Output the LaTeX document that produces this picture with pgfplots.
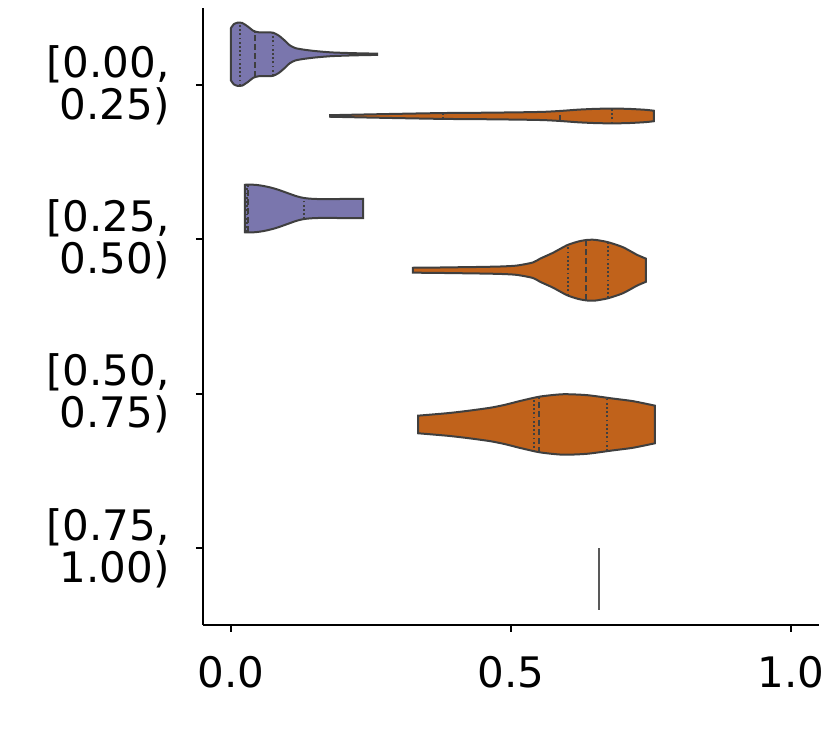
\documentclass[border=0pt]{standalone}
\usepackage{fontspec}
\setmainfont{DejaVu Sans}
\usepackage{pgfplots}
\pgfplotsset{compat=1.18}
\usepackage{pgfplotstable}
\usepgfplotslibrary{fillbetween}

\definecolor{vpurple}{RGB}{122,118,173}
\definecolor{vorange}{RGB}{192,98,27}
\definecolor{vedge}{RGB}{63,63,63}

% x = value, hw = half width of the violin
\pgfplotstableread{
x hw
0.000 0.170
0.005 0.195
0.012 0.205
0.020 0.203
0.030 0.180
0.040 0.152
0.050 0.142
0.065 0.142
0.075 0.140
0.085 0.122
0.095 0.092
0.105 0.058
0.115 0.040
0.130 0.030
0.150 0.021
0.180 0.012
0.220 0.007
0.261 0.004
}\pA
\pgfplotstableread{
x hw
0.177 0.005
0.230 0.009
0.300 0.014
0.379 0.019
0.450 0.021
0.520 0.024
0.560 0.027
0.590 0.033
0.620 0.041
0.650 0.046
0.680 0.048
0.710 0.046
0.740 0.040
0.755 0.034
}\oA
\pgfplotstableread{
x hw
0.025 0.154
0.035 0.155
0.045 0.153
0.055 0.148
0.065 0.141
0.075 0.132
0.085 0.121
0.095 0.108
0.105 0.095
0.115 0.082
0.125 0.072
0.135 0.066
0.145 0.063
0.160 0.061
0.180 0.061
0.200 0.062
0.236 0.063
}\pB
\pgfplotstableread{
x hw
0.325 0.016
0.360 0.017
0.400 0.019
0.440 0.021
0.480 0.024
0.510 0.030
0.539 0.050
0.552 0.075
0.575 0.113
0.600 0.162
0.620 0.186
0.635 0.196
0.650 0.197
0.673 0.182
0.700 0.149
0.725 0.100
0.741 0.075
}\oB
\pgfplotstableread{
x hw
0.334 0.057
0.386 0.073
0.420 0.087
0.4625 0.108
0.490 0.128
0.516 0.152
0.552 0.181
0.593 0.196
0.636 0.190
0.682 0.168
0.718 0.151
0.757 0.122
}\oC

\begin{document}
\begin{tikzpicture}
\begin{axis}[
  width=308pt, height=308.5pt, scale only axis,
  at={(0,0)}, anchor=south west,
  xmin=-0.05, xmax=1.05, ymin=-0.5, ymax=3.5,
  axis x line*=bottom, axis y line*=left,
  axis line style={-, line width=1pt, black},
  xtick={0,0.5,1}, xticklabels={0.0,0.5,1.0},
  ytick={0,1,2,3},
  yticklabels={{[0.75,\\1.00)},{[0.50,\\0.75)},{[0.25,\\0.50)},{[0.00,\\0.25)}},
  tick align=outside, major tick length=3.5pt,
  tick style={line width=1pt, black},
  tick label style={font=\fontsize{21}{21}\selectfont},
  yticklabel style={align=right, inner sep=0pt, xshift=-13pt},
  xticklabel style={inner sep=0pt, yshift=-12pt},
  clip=false,
  edgeu/.style={draw=none, smooth, tension=0.4},
  violin/.style={draw=vedge, line width=1pt},
  quart/.style={vedge, line width=1pt, dash pattern=on 0.9pt off 1.2pt},
  med/.style={vedge, line width=1pt, dash pattern=on 3pt off 1.5pt},
]
% [0.00, 0.25)
\addplot[edgeu, name path=pAu] table[x=x, y expr=3.2+\thisrow{hw}] {\pA};
\addplot[edgeu, name path=pAl] table[x=x, y expr=3.2-\thisrow{hw}] {\pA};
\addplot[violin, fill=vpurple] fill between[of=pAu and pAl];
\addplot[quart] coordinates {(0.016,2.997) (0.016,3.403)};
\addplot[med] coordinates {(0.043,3.054) (0.043,3.346)};
\addplot[quart] coordinates {(0.075,3.060) (0.075,3.340)};

\addplot[edgeu, name path=oAu] table[x=x, y expr=2.8+\thisrow{hw}] {\oA};
\addplot[edgeu, name path=oAl] table[x=x, y expr=2.8-\thisrow{hw}] {\oA};
\addplot[violin, fill=vorange] fill between[of=oAu and oAl];
\addplot[quart] coordinates {(0.379,2.781) (0.379,2.819)};
\addplot[med] coordinates {(0.588,2.767) (0.588,2.833)};
\addplot[quart] coordinates {(0.680,2.752) (0.680,2.848)};

% [0.25, 0.50)
\addplot[edgeu, name path=pBu] table[x=x, y expr=2.2+\thisrow{hw}] {\pB};
\addplot[edgeu, name path=pBl] table[x=x, y expr=2.2-\thisrow{hw}] {\pB};
\addplot[violin, fill=vpurple] fill between[of=pBu and pBl];
\addplot[quart] coordinates {(0.028,2.046) (0.028,2.354)};
\addplot[med] coordinates {(0.031,2.045) (0.031,2.355)};
\addplot[quart] coordinates {(0.130,2.131) (0.130,2.269)};

\addplot[edgeu, name path=oBu] table[x=x, y expr=1.8+\thisrow{hw}] {\oB};
\addplot[edgeu, name path=oBl] table[x=x, y expr=1.8-\thisrow{hw}] {\oB};
\addplot[violin, fill=vorange] fill between[of=oBu and oBl];
\addplot[quart] coordinates {(0.602,1.637) (0.602,1.963)};
\addplot[med] coordinates {(0.634,1.605) (0.634,1.995)};
\addplot[quart] coordinates {(0.673,1.618) (0.673,1.982)};

% [0.50, 0.75)
\addplot[edgeu, name path=oCu] table[x=x, y expr=0.8+\thisrow{hw}] {\oC};
\addplot[edgeu, name path=oCl] table[x=x, y expr=0.8-\thisrow{hw}] {\oC};
\addplot[violin, fill=vorange] fill between[of=oCu and oCl];
\addplot[quart] coordinates {(0.541,0.622) (0.541,0.978)};
\addplot[med] coordinates {(0.550,0.618) (0.550,0.982)};
\addplot[quart] coordinates {(0.671,0.629) (0.671,0.971)};

% [0.75, 1.00): single observation
\addplot[draw=black!65, line width=0.8pt] coordinates {(0.657,-0.4) (0.657,0.0)};
\end{axis}
\pgfresetboundingbox
\path[use as bounding box] (-101.5pt,-59.5pt) rectangle (312pt,312.5pt);
\end{tikzpicture}
\end{document}
